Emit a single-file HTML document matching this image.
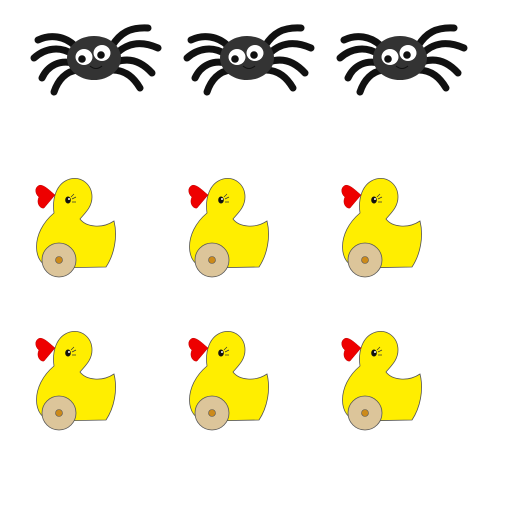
<!DOCTYPE html>
<html><head><meta charset="utf-8"><style>html,body{margin:0;padding:0;background:#fff}svg{display:block}</style></head>
<body>
<svg width="512" height="512" viewBox="0 0 512 512">
<defs>
<g id="spider">
  <g fill="none" stroke="#111" stroke-width="7" stroke-linecap="round" stroke-linejoin="round">
    <path d="M45,26 C35,16 20,14 8,20"/>
    <path d="M42,34 C30,26 15,28 4,38"/>
    <path d="M43,43 C30,40 18,45 12,58"/>
    <path d="M48,50 C36,51 28,60 24,72"/>
    <path d="M82,26 C90,13 100,7 118,8"/>
    <path d="M86,34 C98,22 112,21 128,28"/>
    <path d="M86,42 C100,37 112,42 122,53"/>
    <path d="M82,50 C96,50 104,58 110,68"/>
  </g>
  <ellipse cx="64" cy="38" rx="27" ry="22" fill="#333"/>
  <ellipse cx="54" cy="37" rx="8.5" ry="8" fill="#fff"/><circle cx="52" cy="39" r="3.8" fill="#111"/>
  <ellipse cx="72" cy="33" rx="8.5" ry="8" fill="#fff"/><circle cx="71" cy="35" r="3.8" fill="#111"/>
  <path d="M60,46 Q66,51 72,46" fill="none" stroke="#111" stroke-width="1"/>
</g>
<g id="duck">
  <path d="M24,38 C22,24 26,8 40,4 C52,1 62,10 62,22 C62,32 55,38 50,44 C56,52 72,54 84,46 C88,62 84,80 76,92 L22,93 C2,90 0,58 24,38 Z" fill="#ffee00" stroke="#555" stroke-width="0.8"/>
  <path d="M25,20 C18,14 12,8 8,11 C4,14 6,20 9,22 C6,28 10,34 14,33 Z" fill="#e00" stroke="#b00" stroke-width="0.5"/>
  <ellipse cx="38" cy="25" rx="2.8" ry="3.5" fill="#111"/><circle cx="39" cy="24" r="1" fill="#fff"/>
  <path d="M41,22 L44,19 M42,24 L46,22 M42,27 L46,27" stroke="#333" stroke-width="0.7"/>
  <circle cx="29" cy="85" r="17" fill="#dcc59a" stroke="#555" stroke-width="0.8"/>
  <circle cx="29" cy="85" r="3.5" fill="#cc8a1a" stroke="#555" stroke-width="0.6"/>
</g>
</defs>
<use href="#spider" x="30" y="20"/>
<use href="#spider" x="183" y="20"/>
<use href="#spider" x="336" y="20"/>
<use href="#duck" x="30" y="175"/>
<use href="#duck" x="183" y="175"/>
<use href="#duck" x="336" y="175"/>
<use href="#duck" x="30" y="328"/>
<use href="#duck" x="183" y="328"/>
<use href="#duck" x="336" y="328"/>
</svg>
</body></html>
